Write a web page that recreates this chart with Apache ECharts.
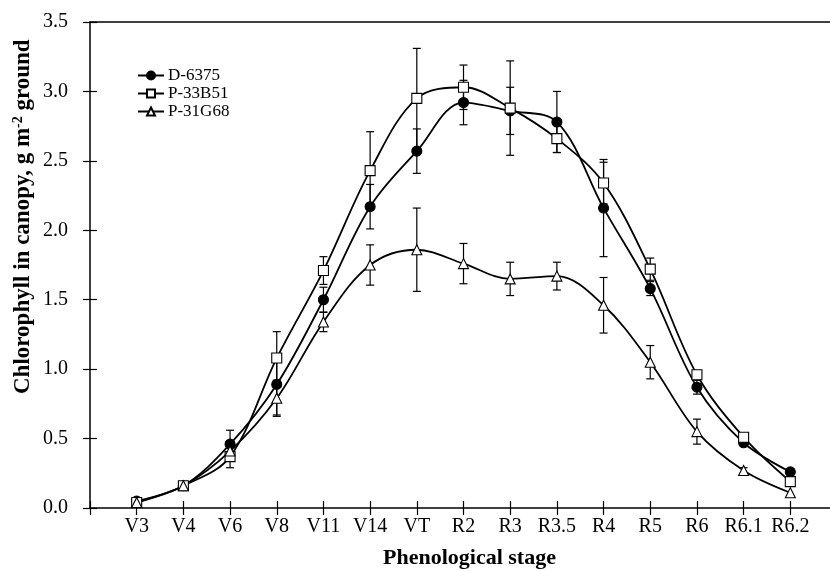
<!DOCTYPE html>
<html>
<head>
<meta charset="utf-8">
<script src="https://cdn.jsdelivr.net/npm/echarts@6/dist/echarts.min.js"></script>
<style>html,body{margin:0;padding:0;background:#fff;overflow:hidden;width:830px;height:571px}#c{width:840px;height:571px}</style>
</head>
<body>
<div id="c"></div>
<script>
const categories = ['V3','V4','V6','V8','V11','V14','VT','R2','R3','R3.5','R4','R5','R6','R6.1','R6.2'];
const seriesNames = ['D-6375','P-33B51','P-31G68'];
const d6375 = [0.05,0.16,0.46,0.89,1.50,2.17,2.57,2.92,2.86,2.78,2.16,1.58,0.87,0.47,0.26];
const p33b51 = [0.04,0.16,0.37,1.08,1.71,2.43,2.95,3.03,2.88,2.66,2.34,1.72,0.96,0.51,0.19];
const p31g68 = [0.04,0.16,0.41,0.79,1.34,1.75,1.86,1.76,1.65,1.67,1.46,1.05,0.55,0.27,0.11];
const d6375Err = [0,0,0.10,0.22,0.09,0.16,0.16,0.16,0.17,0.22,0.35,0.05,0.05,0.02,0];
const p33b51Err = [0,0,0.08,0.19,0.10,0.28,0.36,0.16,0.34,0.10,0.15,0.08,0.02,0.02,0];
const p31g68Err = [0,0,0.03,0.13,0.07,0.145,0.30,0.145,0.12,0.10,0.20,0.12,0.09,0.02,0];
const yTicks = ['0.0','0.5','1.0','1.5','2.0','2.5','3.0','3.5'];

const FONT = 'Liberation Serif';
const chart = echarts.init(document.getElementById('c'), null, {renderer:'canvas'});

function pts(vals){ return vals.map((v,i)=>[i+1, v]); }
function errPts(vals, errs){ return vals.map((v,i)=>[i+1, v, errs[i]]); }

function errSeries(vals, errs){
  return {
    type:'custom', z:1, xAxisIndex:0, yAxisIndex:0,
    data: errPts(vals, errs), encode:{x:0,y:1}, silent:true,
    renderItem: function(params, api){
      const x = api.value(0), y = api.value(1), e = api.value(2);
      if (!(e > 0)) return;
      const t = api.coord([x, y+e]), b = api.coord([x, y-e]);
      const w = 4;
      const st = {stroke:'#000', lineWidth:1.2};
      return {type:'group', children:[
        {type:'line', shape:{x1:t[0],y1:t[1],x2:b[0],y2:b[1]}, style:st},
        {type:'line', shape:{x1:t[0]-w,y1:t[1],x2:t[0]+w,y2:t[1]}, style:st},
        {type:'line', shape:{x1:b[0]-w,y1:b[1],x2:b[0]+w,y2:b[1]}, style:st}
      ]};
    }
  };
}

function lineSeries(name, vals, symbol, fill, size){
  return {
    name:name, type:'line', z:3, xAxisIndex:0, yAxisIndex:0,
    data: pts(vals), smooth:0.35,
    symbol:symbol, symbolSize:size, showSymbol:true,
    lineStyle:{color:'#000', width:1.8},
    itemStyle:{color:fill, borderColor:'#000', borderWidth:1.1},
    emphasis:{disabled:true}
  };
}

const xBase = {type:'value', min:0, max:16, interval:1, gridIndex:0};
const yBase = {type:'value', min:0, max:3.5, interval:0.5, gridIndex:0};

chart.setOption({
  animation:false,
  backgroundColor:'#fff',
  grid:{left:90, right:0, top:22, bottom:63, containLabel:false},
  legend:{
    orient:'vertical', left:132, top:62, itemGap:1, itemWidth:26, itemHeight:10,
    textStyle:{fontFamily:FONT, fontSize:17, color:'#000', padding:[0,0,0,-1]},
    data:seriesNames
  },
  xAxis:[
    Object.assign({}, xBase, {position:'bottom',
      axisLine:{show:true, onZero:false, lineStyle:{color:'#000', width:1.5}},
      axisTick:{show:true, inside:false, length:7, lineStyle:{color:'#000', width:1.2}},
      axisLabel:{margin:9, fontFamily:FONT, fontSize:20, color:'#000',
        formatter:function(v){ return categories[v-1] || ''; }},
      splitLine:{show:false}}),
    Object.assign({}, xBase, {position:'bottom',
      axisLine:{show:false, onZero:false},
      axisTick:{show:true, inside:true, length:7, lineStyle:{color:'#000', width:1.2}},
      axisLabel:{show:false}, splitLine:{show:false}}),
    Object.assign({}, xBase, {position:'top',
      axisLine:{show:true, onZero:false, lineStyle:{color:'#000', width:1.5}},
      axisTick:{show:false}, axisLabel:{show:false}, splitLine:{show:false}})
  ],
  yAxis:[
    Object.assign({}, yBase, {position:'left',
      axisLine:{show:true, onZero:false, lineStyle:{color:'#000', width:1.5}},
      axisTick:{show:true, inside:false, length:7, lineStyle:{color:'#000', width:1.2}},
      axisLabel:{margin:22, fontFamily:FONT, fontSize:20, color:'#000',
        formatter:function(v){ return yTicks[Math.round(v*2)]; }},
      splitLine:{show:false}}),
    Object.assign({}, yBase, {position:'left',
      axisLine:{show:false, onZero:false},
      axisTick:{show:true, inside:true, length:7, lineStyle:{color:'#000', width:1.2}},
      axisLabel:{show:false}, splitLine:{show:false}})
  ],
  graphic:[
    {type:'text', left:383, top:547, style:{text:'Phenological stage', fontFamily:FONT, fontSize:22, fontWeight:'bold', fill:'#000'}},
    {type:'text', x:11, y:394, rotation:Math.PI/2, style:{
      text:'{a|Chlorophyll in canopy, g m}{s|-2}{a| ground}',
      rich:{
        a:{fontFamily:FONT, fontSize:23, fontWeight:'bold', color:'#000'},
        s:{fontFamily:FONT, fontSize:14, fontWeight:'bold', color:'#000', padding:[0,0,11,0]}
      }
    }}
  ],
  series:[
    errSeries(d6375, d6375Err),
    errSeries(p33b51, p33b51Err),
    errSeries(p31g68, p31g68Err),
    lineSeries(seriesNames[0], d6375, 'circle', '#000', 10),
    lineSeries(seriesNames[1], p33b51, 'rect', '#fff', 10),
    lineSeries(seriesNames[2], p31g68, 'triangle', '#fff', 10)
  ]
});
</script>
</body>
</html>
